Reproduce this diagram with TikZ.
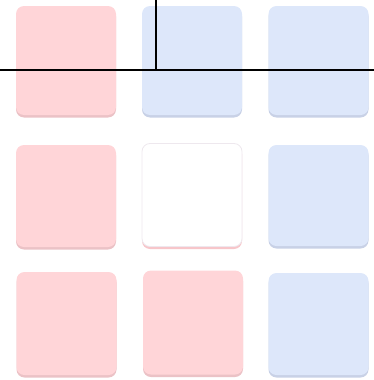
\documentclass[tikz,border=0pt]{standalone}
\usetikzlibrary{shadows}
\definecolor{pinkfill}{HTML}{FFD5D8}
\definecolor{pinkshadow}{HTML}{EBC2C6}
\definecolor{bluefill}{HTML}{DDE7FA}
\definecolor{blueshadow}{HTML}{C8D1E6}
\definecolor{whiteedge}{HTML}{EEE8EE}
\definecolor{whiteshadow}{HTML}{F7C6CA}
\tikzset{
  cell/.style={rectangle, rounded corners=8pt, minimum width=100pt, inner sep=0pt, draw=none},
  pinkcell/.style={cell, fill=pinkfill, drop shadow={shadow xshift=0pt, shadow yshift=-2.5pt, fill=pinkshadow, opacity=1}},
  bluecell/.style={cell, fill=bluefill, drop shadow={shadow xshift=0pt, shadow yshift=-2.5pt, fill=blueshadow, opacity=1}},
  whitecell/.style={cell, fill=white, draw=whiteedge, line width=0.8pt, drop shadow={shadow xshift=0pt, shadow yshift=-2.5pt, fill=whiteshadow, opacity=1}},
  rule/.style={draw=black, line width=2pt}
}
\begin{document}
\begin{tikzpicture}[x=1pt,y=-1pt]
\useasboundingbox (0,0) rectangle (374,380);
% row 1
\node[pinkcell, minimum height=109pt] (a1) at (66,60.5) {};
\node[bluecell, minimum height=109pt] (a2) at (192,60.5) {};
\node[bluecell, minimum height=109pt] (a3) at (318.5,60.5) {};
% row 2
\node[pinkcell, minimum height=102pt] (b1) at (66,196) {};
\node[whitecell, minimum height=103pt] (b2) at (192,195) {};
\node[bluecell, minimum height=101pt] (b3) at (318.5,195.5) {};
% row 3
\node[pinkcell, minimum height=103pt] (c1) at (66.5,323.5) {};
\node[pinkcell, minimum height=104pt] (c2) at (193,322.5) {};
\node[bluecell, minimum height=102pt] (c3) at (318.5,324) {};
% lines
\coordinate (hl) at (0,70);
\coordinate (hr) at (374,70);
\coordinate (vt) at (155.5,0);
\coordinate (vb) at (155.5,70);
\draw[rule] (hl) -- (hr);
\draw[rule] (vt) -- (vb);
\end{tikzpicture}
\end{document}
